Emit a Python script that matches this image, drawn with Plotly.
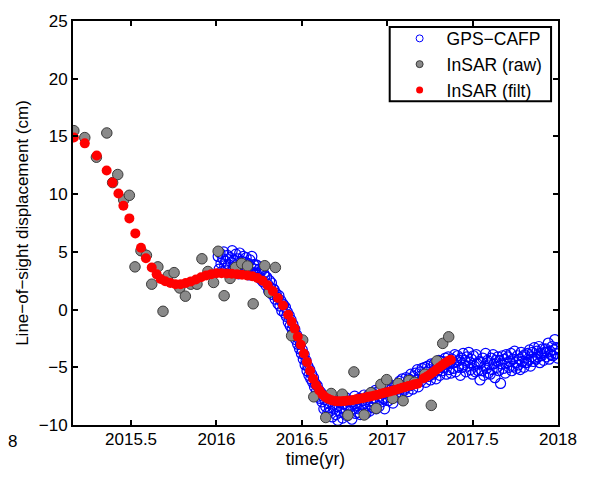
import numpy as np
import plotly.graph_objects as go

# ---- InSAR raw line-of-sight displacement (cm) ----
raw_t = [2015.165, 2015.229, 2015.297, 2015.358, 2015.392, 2015.422, 2015.457, 2015.490,
         2015.523, 2015.558, 2015.590, 2015.621, 2015.657, 2015.687, 2015.718, 2015.752,
         2015.785, 2015.818, 2015.850, 2015.886, 2015.915, 2015.950, 2015.983, 2016.010,
         2016.045, 2016.080, 2016.112, 2016.148, 2016.182, 2016.215, 2016.283, 2016.310,
         2016.345, 2016.440, 2016.505, 2016.570, 2016.640, 2016.672, 2016.737, 2016.770,
         2016.805, 2016.865, 2016.905, 2016.935, 2016.963, 2016.997, 2017.032, 2017.064,
         2017.093, 2017.128, 2017.160, 2017.220, 2017.258, 2017.291, 2017.325, 2017.360]
raw_v = [15.5, 14.9, 13.2, 15.3, 11.0, 11.7, 9.5, 9.9,
         3.7, 5.1, 4.7, 2.2, 3.7, -0.15, 2.95, 3.2,
         1.87, 1.16, 2.2, 2.2, 4.4, 3.3, 2.35, 5.05,
         1.2, 2.7, 3.65, 4.0, 3.78, 0.5, 3.8, 1.5,
         3.65, -2.27, -2.64, -7.56, -9.35, -7.27, -7.33, -9.15,
         -5.4, -9.13, -7.2, -8.56, -6.48, -6.07, -7.7, -6.4,
         -7.9, -6.15, -6.3, -5.6, -8.3, -4.45, -2.93, -2.36]

# ---- InSAR filtered displacement (cm) ----
filt_t = [2015.165, 2015.229, 2015.299, 2015.357, 2015.391, 2015.426, 2015.455, 2015.490,
          2015.525, 2015.558, 2015.587, 2015.621, 2015.650, 2015.673, 2015.700, 2015.730,
          2015.760, 2015.790, 2015.820, 2015.850, 2015.880, 2015.910, 2015.940, 2015.970,
          2016.000, 2016.030, 2016.060, 2016.090, 2016.120, 2016.150, 2016.180, 2016.210,
          2016.240, 2016.270, 2016.300, 2016.330, 2016.360, 2016.390, 2016.420,
          2016.440, 2016.458, 2016.476, 2016.494, 2016.512, 2016.530, 2016.548, 2016.566,
          2016.584, 2016.602, 2016.620, 2016.638, 2016.656, 2016.674, 2016.692, 2016.710,
          2016.728, 2016.746, 2016.764, 2016.782, 2016.800, 2016.818, 2016.836, 2016.854,
          2016.872, 2016.890, 2016.908, 2016.926, 2016.944, 2016.962, 2016.980, 2016.998,
          2017.016, 2017.034, 2017.052, 2017.070, 2017.088, 2017.106, 2017.124, 2017.142,
          2017.160, 2017.178,
          2017.214, 2017.232, 2017.250, 2017.268, 2017.286, 2017.304, 2017.322, 2017.340,
          2017.358, 2017.372]
filt_v = [14.9, 14.4, 13.35, 12.05, 11.0, 10.05, 9.0, 7.9,
          6.6, 5.35, 4.45, 3.65, 3.05, 2.65, 2.45, 2.3,
          2.2, 2.2, 2.3, 2.44, 2.6, 2.8, 2.96, 3.07,
          3.15, 3.15, 3.12, 3.1, 3.06, 3.02, 2.96, 2.88,
          2.74, 2.5, 2.1, 1.6, 1.0, 0.35, -0.45,
          -1.05, -1.65, -2.35, -3.05, -3.8, -4.55, -5.3, -6.0,
          -6.55, -7.0, -7.35, -7.6, -7.75, -7.85, -7.92, -7.95,
          -7.95, -7.93, -7.9, -7.87, -7.83, -7.78, -7.73, -7.68,
          -7.62, -7.56, -7.5, -7.44, -7.37, -7.3, -7.23, -7.16,
          -7.09, -7.02, -6.94, -6.86, -6.78, -6.7, -6.62, -6.55,
          -6.48, -6.42,
          -5.95, -5.8, -5.62, -5.42, -5.22, -5.02, -4.82, -4.62,
          -4.45, -4.35]

# ---- GPS station CAFP, sampled every 2 days from 2016.01 ----
gps_start = 2016.01
gps_step_days = 2
gps_v = [
    4.6, 3.5, 4.9, 4.0, 3.3, 4.4, 5.0, 3.8, 4.2, 3.6,
    4.7, 3.9, 3.2, 4.5, 4.1, 5.1, 3.6, 4.3, 3.4, 4.8,
    3.7, 4.4, 3.1, 4.9, 3.9, 4.2, 3.3, 4.6, 3.8, 4.1,
    4.5, 3.4, 4.0, 3.0, 4.3, 3.7, 4.6, 3.2, 3.9, 3.5,
    3.9, 3.1, 3.8, 2.8, 3.5, 3.3, 2.6, 3.4, 2.4, 3.1,
    2.9, 2.1, 2.8, 2.2, 1.6, 2.5, 1.9, 2.3, 1.3, 1.8,
    1.7, 0.9, 1.4, 1.1, 0.5, 1.2, 0.3, 0.8, -0.1, 0.5,
    0.4, -0.3, 0.2, -0.6, -0.2, -1.1, -0.5, -1.4, -0.9, -1.7,
    -1.3, -2.1, -1.7, -2.6, -2.2, -3.0, -2.5, -3.4, -3.0, -3.8,
    -3.5, -4.3, -3.9, -4.8, -4.4, -5.3, -4.9, -5.7, -5.2, -6.0,
    -5.6, -6.3, -5.9, -6.7, -6.4, -7.1, -6.6, -7.5, -7.0, -7.7,
    -7.2, -8.0, -7.5, -8.6, -7.8, -8.4, -7.6, -9.0, -8.1, -8.5,
    -8.8, -7.7, -9.3, -8.2, -8.6, -7.9, -9.1, -8.4, -9.6, -8.0,
    -8.9, -7.8, -8.5, -9.4, -8.2, -9.0, -7.6, -8.7, -9.2, -8.3,
    -7.9, -8.8, -8.4, -9.5, -8.0, -8.6, -7.5, -9.0, -8.3, -8.9,
    -8.6, -7.7, -9.1, -8.2, -7.9, -8.7, -7.4, -8.4, -9.0, -7.8,
    -8.3, -7.4, -8.8, -7.9, -7.2, -8.5, -7.7, -8.1, -7.0, -8.6,
    -7.9, -7.1, -8.4, -7.5, -6.8, -8.0, -7.3, -7.7, -8.6, -6.9,
    -7.6, -6.9, -7.9, -7.2, -6.5, -7.5, -6.8, -8.1, -7.0, -6.6,
    -7.3, -6.5, -6.9, -7.6, -6.2, -6.8, -7.2, -6.0, -6.7, -7.0,
    -6.8, -5.9, -6.4, -7.1, -6.0, -6.6, -5.6, -6.3, -6.9, -5.8,
    -6.4, -5.5, -6.1, -5.2, -6.7, -5.8, -5.4, -6.2, -5.1, -5.9,
    -5.9, -5.0, -6.3, -5.4, -4.9, -5.8, -5.2, -6.1, -4.7, -5.5,
    -5.6, -4.7, -5.2, -6.0, -4.6, -5.3, -4.4, -5.7, -5.0, -4.5,
    -5.3, -4.5, -5.0, -4.2, -5.6, -4.7, -4.1, -5.2, -4.6, -5.5,
    -4.3, -5.1, -4.6, -3.9, -5.4, -4.5, -4.0, -5.0, -4.4, -5.7,
    -4.2, -5.0, -3.8, -4.8, -4.4, -5.4, -4.1, -4.9, -3.7, -4.6,
    -5.2, -4.3, -5.6, -4.0, -4.9, -5.4, -3.9, -4.7, -5.3, -4.5,
    -6.1, -4.6, -5.3, -4.2, -5.7, -4.9, -3.8, -5.1, -4.4, -5.5,
    -4.8, -5.6, -4.2, -5.2, -3.9, -4.7, -5.9, -4.4, -5.0, -4.1,
    -5.3, -4.4, -6.4, -4.7, -4.0, -5.1, -4.3, -5.5, -3.9, -4.6,
    -4.1, -5.0, -4.5, -3.8, -5.3, -4.3, -4.9, -3.6, -4.6, -5.1,
    -4.0, -4.8, -4.3, -5.2, -3.7, -4.5, -4.1, -5.0, -3.9, -4.6,
    -4.6, -3.8, -4.4, -3.5, -4.9, -4.1, -3.7, -4.5, -3.3, -4.2,
    -4.3, -3.6, -4.1, -3.2, -4.6, -3.8, -4.0, -3.4, -4.4, -3.7,
    -3.4, -4.1, -3.7, -2.9, -4.3, -3.6, -3.9, -3.2, -4.0, -3.5,
    -2.6, -3.8, -3.3, -4.2,
]
gps_t = gps_start + np.arange(len(gps_v)) * gps_step_days / 365.25

x_ticks = [2015.5, 2016, 2016.5, 2017, 2017.5, 2018]
x_tick_text = ["2015.5", "2016", "2016.5", "2017", "2017.5", "2018"]
y_ticks = [-10, -5, 0, 5, 10, 15, 20, 25]

FONT = "Liberation Sans, Arial, Helvetica, sans-serif"
BLUE = "#0000ff"
GRAY = "#8a8a8a"
RED = "#ff0000"

fig = go.Figure()

fig.add_trace(go.Scatter(
    x=gps_t, y=gps_v, mode="markers", showlegend=False,
    marker=dict(symbol="circle-open", size=10, color=BLUE, line=dict(width=1.2, color=BLUE)),
))
fig.add_trace(go.Scatter(
    x=raw_t, y=raw_v, mode="markers", showlegend=False,
    marker=dict(symbol="circle", size=10.5, color=GRAY, line=dict(width=1, color="#3a3a3a")),
))
fig.add_trace(go.Scatter(
    x=filt_t, y=filt_v, mode="markers", showlegend=False,
    marker=dict(symbol="circle", size=10, color=RED, line=dict(width=0)),
))

# legend entries with smaller symbols
fig.add_trace(go.Scatter(
    x=[None], y=[None], mode="markers", name="GPS\u2212CAFP",
    marker=dict(symbol="circle-open", size=7, color=BLUE, line=dict(width=1, color=BLUE)),
))
fig.add_trace(go.Scatter(
    x=[None], y=[None], mode="markers", name="InSAR (raw)",
    marker=dict(symbol="circle", size=7, color=GRAY, line=dict(width=1, color="#3a3a3a")),
))
fig.add_trace(go.Scatter(
    x=[None], y=[None], mode="markers", name="InSAR (filt)",
    marker=dict(symbol="circle", size=7, color=RED, line=dict(width=0)),
))

axis_common = dict(
    showline=True, linecolor="black", linewidth=2, mirror="ticks",
    ticks="inside", ticklen=5, tickwidth=1.5, tickcolor="black",
    showgrid=False, zeroline=False,
    tickfont=dict(family=FONT, size=17, color="black"),
)

fig.update_xaxes(
    range=[2015.16, 2018], tickmode="array", tickvals=x_ticks, ticktext=x_tick_text,
    ticklabelstandoff=-2,
    title=dict(text="time(yr)", font=dict(family=FONT, size=17.5, color="black"), standoff=0),
    **axis_common,
)
fig.update_yaxes(
    range=[-10, 25], tickmode="array", tickvals=y_ticks,
    title=dict(text="Line\u2212of\u2212sight displacement (cm)",
               font=dict(family=FONT, size=17, color="black"), standoff=6),
    **axis_common,
)

# legend frame, with the legend entries laid over it
fig.add_shape(
    type="rect", xref="paper", yref="paper",
    x0=0.653, x1=0.9857, y0=0.8015, y1=0.9853,
    fillcolor="white", line=dict(color="black", width=2), layer="above",
)

fig.add_annotation(
    text="8", xref="paper", yref="paper", x=-0.125, y=-0.04,
    xanchor="center", yanchor="middle", showarrow=False,
    font=dict(family=FONT, size=17, color="black"),
)

fig.update_layout(
    width=589, height=477,
    margin=dict(l=73, r=26, t=17, b=52),
    paper_bgcolor="white", plot_bgcolor="white",
    font=dict(family=FONT, size=17, color="black"),
    legend=dict(
        x=0.659, y=1.0012, xanchor="left", yanchor="top",
        bgcolor="rgba(0,0,0,0)", borderwidth=0,
        font=dict(family=FONT, size=17.5, color="black"),
        itemwidth=44, tracegroupgap=0,
    ),
)

fig.write_html("out.html")
